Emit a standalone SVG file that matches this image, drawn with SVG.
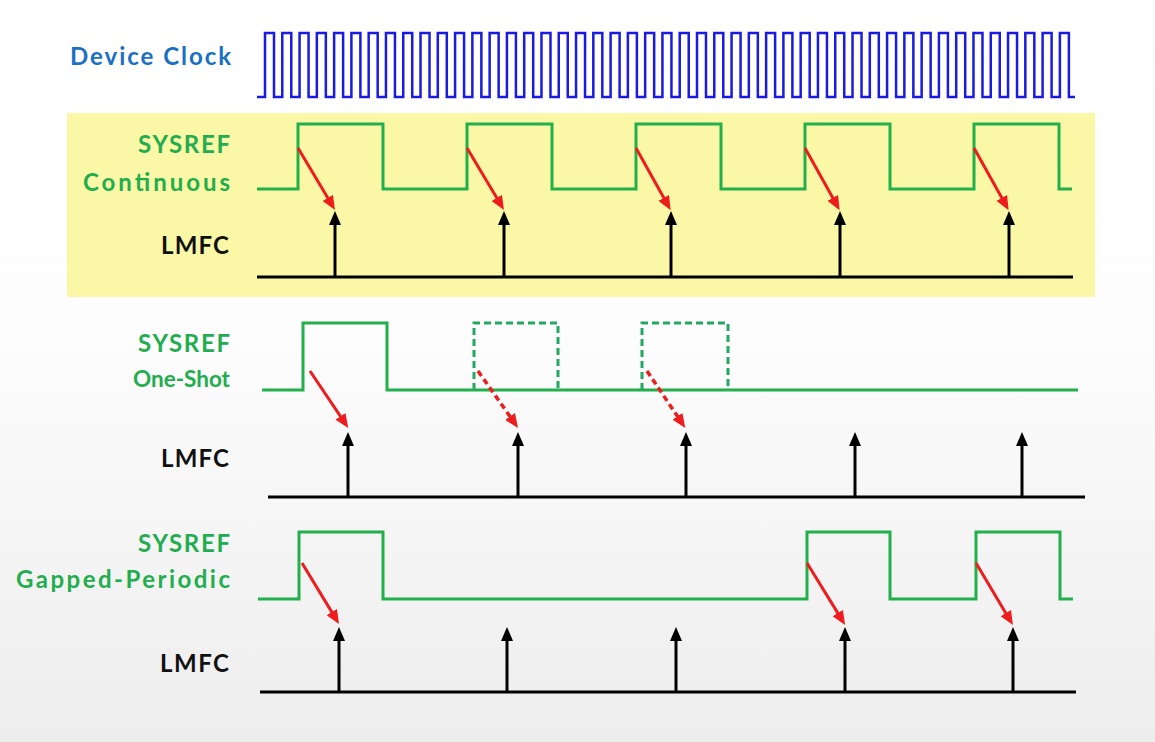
<svg xmlns="http://www.w3.org/2000/svg" width="1155" height="742" viewBox="0 0 1155 742">
<defs>
<linearGradient id="bg" x1="0" y1="0" x2="0" y2="1">
<stop offset="0" stop-color="#ffffff"/>
<stop offset="0.45" stop-color="#fdfdfd"/>
<stop offset="1" stop-color="#ededed"/>
</linearGradient>
<marker id="ab" markerWidth="14" markerHeight="12" refX="1" refY="6" orient="auto" markerUnits="userSpaceOnUse"><path d="M0,0 L14,6 L0,12 z" fill="#000"/></marker>
<marker id="ar" markerWidth="14" markerHeight="12" refX="1" refY="6" orient="auto" markerUnits="userSpaceOnUse"><path d="M0,0 L14,6 L0,12 z" fill="#ee1c1c"/></marker>
</defs>
<style>
.lbl{font-family:Lato,"Liberation Sans",sans-serif;font-weight:bold;font-size:24px;text-anchor:end}
.g{fill:#22ad4e}
.k{fill:#111}
.b{fill:#1b6fc4}
.clk{fill:none;stroke:#1a1ae0;stroke-width:2.5}
.sig{fill:none;stroke:#22b04c;stroke-width:3}
.dsh{fill:none;stroke:#22a862;stroke-width:3;stroke-dasharray:7 4}
.base{stroke:#000;stroke-width:3}
.lm{stroke:#000;stroke-width:3;marker-end:url(#ab)}
.red{stroke:#ee1c1c;stroke-width:3;marker-end:url(#ar)}
.redd{stroke:#ee1c1c;stroke-width:3.5;stroke-dasharray:6 4;marker-end:url(#ar)}
</style>
<rect width="1155" height="742" fill="url(#bg)"/>
<rect x="67" y="113" width="1028" height="184" fill="#faf8a6"/>

<g id="device-clock">
<text class="lbl b" x="231" y="65" textLength="161" lengthAdjust="spacing">Device Clock</text>
<path class="clk" d="M257 97H265V33h9V97h8.28V33h9V97h8.28V33h9V97h8.28V33h9V97h8.28V33h9V97h8.28V33h9V97h8.28V33h9V97h8.28V33h9V97h8.28V33h9V97h8.28V33h9V97h8.28V33h9V97h8.28V33h9V97h8.28V33h9V97h8.28V33h9V97h8.28V33h9V97h8.28V33h9V97h8.28V33h9V97h8.28V33h9V97h8.28V33h9V97h8.28V33h9V97h8.28V33h9V97h8.28V33h9V97h8.28V33h9V97h8.28V33h9V97h8.28V33h9V97h8.28V33h9V97h8.28V33h9V97h8.28V33h9V97h8.28V33h9V97h8.28V33h9V97h8.28V33h9V97h8.28V33h9V97h8.28V33h9V97h8.28V33h9V97h8.28V33h9V97h8.28V33h9V97h8.28V33h9V97h8.28V33h9V97h8.28V33h9V97h8.28V33h9V97h8.28V33h9V97h8.28V33h9V97h8.28V33h9V97h8.28V33h9V97h8.28V33h9V97h8.28V33h9V97h8.28V33h9V97H1075"/>
</g>

<g id="sysref-continuous">
<text class="lbl g" x="230" y="153" textLength="92" lengthAdjust="spacing">SYSREF</text>
<text class="lbl g" x="230" y="191" textLength="147" lengthAdjust="spacing">Continuous</text>
<path class="sig" d="M257 189H298V124H383V189H467V124H552V189H636V124H721V189H805V124H890V189H974V124H1059V189H1072"/>
</g>

<g id="lmfc-continuous">
<text class="lbl k" x="229" y="254" textLength="68" lengthAdjust="spacing">LMFC</text>
<line class="base" x1="257" y1="277" x2="1073" y2="277"/>
<line class="lm" x1="335" y1="277" x2="335" y2="224"/>
<line class="lm" x1="504" y1="277" x2="504" y2="224"/>
<line class="lm" x1="671" y1="277" x2="671" y2="224"/>
<line class="lm" x1="840" y1="277" x2="840" y2="224"/>
<line class="lm" x1="1009" y1="277" x2="1009" y2="224"/>
</g>

<g id="sysref-oneshot">
<text class="lbl g" x="230" y="352" textLength="92" lengthAdjust="spacing">SYSREF</text>
<text class="lbl g" x="230" y="387" style="font-size:22.5px">One-Shot</text>
<path class="sig" d="M262 390H303V323H387V390H1078"/>
<path class="dsh" d="M474 390V323H558V390"/>
<path class="dsh" d="M642 390V323H728V390"/>
</g>

<g id="lmfc-oneshot">
<text class="lbl k" x="229" y="467" textLength="68" lengthAdjust="spacing">LMFC</text>
<line class="base" x1="268" y1="497" x2="1085" y2="497"/>
<line class="lm" x1="348" y1="497" x2="348" y2="445"/>
<line class="lm" x1="518" y1="497" x2="518" y2="445"/>
<line class="lm" x1="686" y1="497" x2="686" y2="445"/>
<line class="lm" x1="855" y1="497" x2="855" y2="445"/>
<line class="lm" x1="1022" y1="497" x2="1022" y2="445"/>
</g>

<g id="sysref-gapped">
<text class="lbl g" x="230" y="552" textLength="92" lengthAdjust="spacing">SYSREF</text>
<text class="lbl g" x="230" y="588" textLength="214" lengthAdjust="spacing">Gapped-Periodic</text>
<path class="sig" d="M258 599H299V532H383V599H807V532H890V599H976V532H1060V599H1073"/>
</g>

<g id="lmfc-gapped">
<text class="lbl k" x="229" y="672" textLength="69" lengthAdjust="spacing">LMFC</text>
<line class="base" x1="260" y1="692" x2="1076" y2="692"/>
<line class="lm" x1="339" y1="692" x2="339" y2="640"/>
<line class="lm" x1="507" y1="692" x2="507" y2="640"/>
<line class="lm" x1="676" y1="692" x2="676" y2="640"/>
<line class="lm" x1="845" y1="692" x2="845" y2="640"/>
<line class="lm" x1="1013" y1="692" x2="1013" y2="640"/>
</g>

<g id="connectors">
<line class="red" x1="298" y1="148" x2="328.3" y2="198.8"/>
<line class="red" x1="467" y1="148" x2="497.3" y2="198.8"/>
<line class="red" x1="636" y1="148" x2="664.3" y2="198.8"/>
<line class="red" x1="805" y1="148" x2="833.3" y2="198.8"/>
<line class="red" x1="974" y1="148" x2="1002.3" y2="198.8"/>
<line class="red" x1="310" y1="371" x2="341" y2="417.1"/>
<line class="redd" x1="478" y1="371" x2="510.6" y2="417.3"/>
<line class="redd" x1="647" y1="371" x2="678" y2="417.1"/>
<line class="red" x1="302" y1="563" x2="332.3" y2="612.9"/>
<line class="red" x1="807" y1="563" x2="838.3" y2="613.9"/>
<line class="red" x1="976" y1="563" x2="1006.3" y2="613.9"/>
</g>
</svg>
